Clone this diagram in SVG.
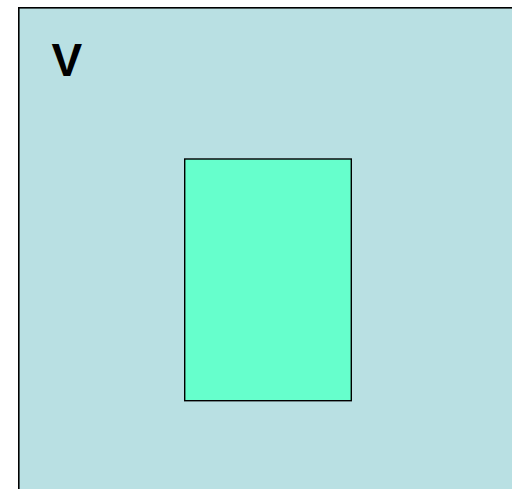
<svg xmlns="http://www.w3.org/2000/svg" width="512" height="489" viewBox="0 0 512 489">
<style>
.outer{fill:#B9E0E3;stroke:#000;stroke-width:1.6}
.inner{fill:#66FFCC;stroke:#000;stroke-width:1.4}
.lbl{font-family:"Liberation Sans",Arial,sans-serif;font-weight:bold;font-size:46px;fill:#000}
</style>
<rect width="512" height="489" fill="#FFFFFF"/>
<g id="V">
<rect class="outer" x="18.8" y="7.8" width="500" height="490"/>
<text class="lbl" x="51.5" y="76">V</text>
</g>
<g id="box">
<rect class="inner" x="184.7" y="159" width="166.6" height="241.7"/>
</g>
<g id="connectors"/>
</svg>
